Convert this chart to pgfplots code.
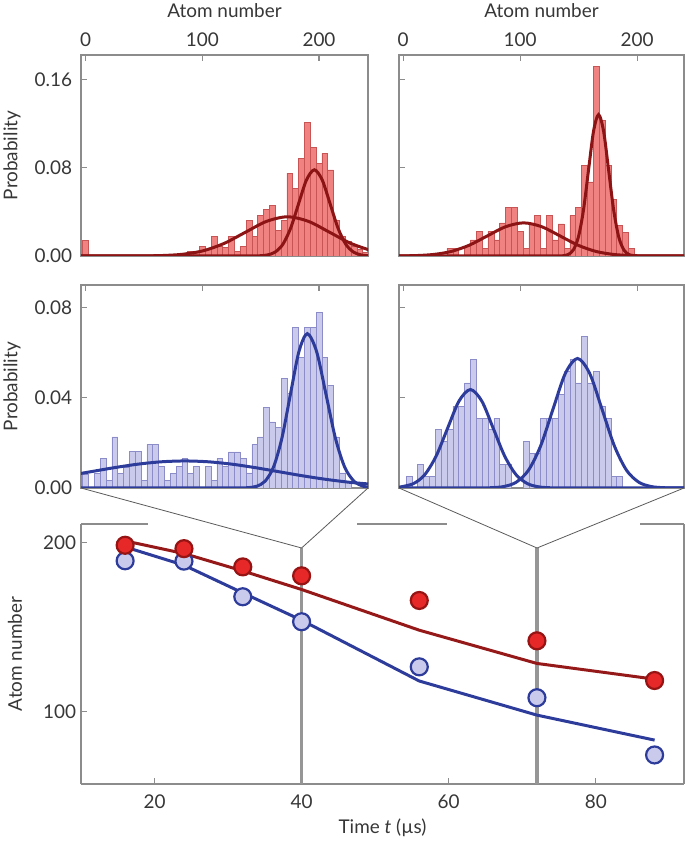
\documentclass[border=0pt]{standalone}
\usepackage{fontspec}
\setmainfont{Lato}
\usepackage{pgfplots}
\pgfplotsset{compat=1.18}

\definecolor{framegray}{RGB}{140,140,140}
\definecolor{textgray}{RGB}{55,55,55}
\definecolor{histred}{RGB}{240,130,130}
\definecolor{histrededge}{RGB}{200,85,85}
\definecolor{fitred}{RGB}{140,20,20}
\definecolor{histblue}{RGB}{202,202,236}
\definecolor{histblueedge}{RGB}{140,140,200}
\definecolor{fitblue}{RGB}{45,60,155}
\definecolor{dotred}{RGB}{230,40,40}
\definecolor{dotrededge}{RGB}{150,20,20}
\definecolor{linered}{RGB}{150,25,25}
\definecolor{vgray}{RGB}{150,150,150}
\definecolor{connector}{RGB}{90,90,90}

\pgfplotsset{
  panel/.style={
    scale only axis,
    axis line style={framegray, line width=1.1bp},
    tick style={framegray, line width=1.1bp},
    major tick length=6bp,
    tick align=inside,
    tick label style={font=\fontsize{19}{22}\selectfont, text=textgray},
    label style={font=\fontsize{19}{22}\selectfont, text=textgray},
    /pgf/number format/assume math mode=true,
    scaled ticks=false,
  },
  hist/.style={
    panel,
    height=201bp,
    xmin=-4, xmax=242,
    xtick={0,100,200},
    xtick pos=right, xticklabel pos=right,
    ytick pos=left,
    xticklabel style={yshift=4.5bp},
    yticklabel style={xshift=-5.5bp},
    xlabel style={at={(axis description cs:0.5,1)}, anchor=base, yshift=37bp},
    ylabel style={at={(axis description cs:-0.24,0.5)}, anchor=center},
  },
  bars/.style={ybar, bar width=5, line width=0.6bp},
  fit/.style={line width=3bp, smooth},
}

\begin{document}
\begin{tikzpicture}[x=1bp,y=1bp]
\useasboundingbox (0,0) rectangle (685,841);

% top left: red histogram
\begin{axis}[hist, at={(81bp,585bp)}, width=287bp,
  ymin=0, ymax=0.182, ytick={0,0.08,0.16}, yticklabels={0.00,0.08,0.16},
  xticklabels={0,100,200}, xlabel={Atom number}, ylabel={Probability}]
\addplot[bars, fill=histred, draw=histrededge] coordinates {
(0,0.014) (90,0.004) (95,0.003) (100,0.0085) (105,0.006) (110,0.018)
(115,0.0085) (120,0.0075) (125,0.018) (130,0.004) (135,0.0085) (140,0.032)
(145,0.018) (150,0.037) (155,0.042) (160,0.046) (165,0.023) (170,0.032)
(175,0.075) (180,0.061) (185,0.088) (190,0.121) (195,0.098) (200,0.084)
(205,0.093) (210,0.078) (215,0.032) (220,0.018) (225,0.013) (230,0.009)
(235,0.006) (240,0.003)
};
\addplot[fit, fitred] coordinates {
(-4,0) (20,0) (29,0.00001) (47,0.00008) (65,0.00039) (83,0.00156) (101,0.0048)
(119,0.01153) (137,0.02153) (155,0.03133) (173,0.0355) (191,0.03133)
(209,0.02153) (227,0.01153) (245,0.0048)
};
\addplot[fit, fitred] coordinates {
(-4,0) (130,0) (142,0.00002) (148.75,0.00017) (155.5,0.00087) (162.25,0.00342)
(169,0.01055) (175.75,0.02533) (182.5,0.04731) (189.25,0.06884) (196,0.078)
(202.75,0.06884) (209.5,0.04731) (216.25,0.02533) (223,0.01055)
(229.75,0.00342) (236.5,0.00087) (243.25,0.00017)
};
\end{axis}

% top right: red histogram
\begin{axis}[hist, at={(399bp,585bp)}, width=285bp, xmin=-3.5, xmax=240,
  ymin=0, ymax=0.182, ytick={0,0.08,0.16}, yticklabels={,,},
  xticklabels={0,100,200}, xlabel={Atom number}]
\addplot[bars, fill=histred, draw=histrededge] coordinates {
(40,0.007) (45,0.007) (55,0.0085) (60,0.0145) (65,0.022) (70,0.007)
(75,0.022) (80,0.0145) (85,0.030) (90,0.044) (95,0.044) (100,0.022)
(105,0.007) (110,0.030) (115,0.037) (120,0.007) (125,0.037) (130,0.0145)
(135,0.029) (140,0.007) (145,0.0365) (150,0.044) (155,0.082) (160,0.067)
(165,0.172) (170,0.123) (175,0.082) (180,0.051) (185,0.028) (190,0.0215)
(195,0.007)
};
\addplot[fit, fitred] coordinates {
(-4,0.0001) (10,0.00033) (25.5,0.00132) (41,0.00406) (56.5,0.00974)
(72,0.0182) (87.5,0.02648) (103,0.030) (118.5,0.02648) (134,0.0182)
(149.5,0.00974) (165,0.00406) (180.5,0.00132) (196,0.00033) (211.5,0.00007)
(241,0)
};
\addplot[fit, fitred] coordinates {
(-4,0) (120,0) (132.6,0.00004) (136.9,0.00028) (141.2,0.00142) (145.5,0.00562)
(149.8,0.01732) (154.1,0.04156) (158.4,0.07763) (162.7,0.11296) (167,0.128)
(171.3,0.11296) (175.6,0.07763) (179.9,0.04156) (184.2,0.01732)
(188.5,0.00562) (192.8,0.00142) (197.1,0.00028) (201.4,0.00004) (215,0) (241,0)
};
\end{axis}

% middle left: blue histogram
\begin{axis}[hist, at={(81bp,353bp)}, width=287bp, height=203bp,
  ymin=0, ymax=0.0901, ytick={0,0.04,0.08}, yticklabels={0.00,0.04,0.08},
  xticklabels={,,}, ylabel={Probability}]
\addplot[bars, fill=histblue, draw=histblueedge] coordinates {
(0,0.006) (10,0.0064) (15,0.013) (20,0.0034) (25,0.0227) (30,0.0064)
(35,0.0093) (40,0.0163) (45,0.0163) (50,0.0034) (55,0.0194) (60,0.0194)
(65,0.0096) (70,0.0034) (75,0.0064) (80,0.0096) (85,0.013) (90,0.0064)
(95,0.0096) (105,0.0096) (110,0.0034) (115,0.013) (120,0.0096) (125,0.016)
(130,0.016) (135,0.013) (140,0.0067) (145,0.0194) (150,0.0227) (155,0.0357)
(160,0.0293) (165,0.027) (170,0.0486) (175,0.042) (180,0.0712) (185,0.058)
(190,0.0712) (195,0.0712) (200,0.0778) (205,0.058) (210,0.0456) (215,0.0227)
(220,0.0067) (225,0.0027)
};
\addplot[fit, fitblue] coordinates {
(-4,0.00647) (5,0.00728) (25,0.00906) (45,0.01059) (65,0.01163) (85,0.012)
(105,0.01163) (125,0.01059) (145,0.00906) (165,0.00728) (185,0.00549)
(205,0.0039) (225,0.0026) (242,0.0018)
};
\addplot[fit, fitblue] coordinates {
(-4,0) (120,0) (132,0.00002) (139.25,0.00015) (146.5,0.00076) (153.75,0.003)
(161,0.00927) (168.25,0.02224) (175.5,0.04155) (182.75,0.06045) (190,0.0685)
(198,0.06045) (206,0.04155) (214,0.02224) (222,0.00927) (230,0.003)
(238,0.00076) (242,0.0004)
};
\end{axis}

% middle right: blue histogram
\begin{axis}[hist, at={(399bp,353bp)}, width=285bp, height=203bp,
  xmin=-3.5, xmax=240,
  ymin=0, ymax=0.0901, ytick={0,0.04,0.08}, yticklabels={,,},
  xticklabels={,,}]
\addplot[bars, fill=histblue, draw=histblueedge] coordinates {
(5,0.0052) (15,0.0104) (20,0.0052) (25,0.0052) (30,0.026) (35,0.0207)
(40,0.026) (45,0.0363) (50,0.0363) (55,0.0466) (60,0.057) (65,0.031)
(70,0.031) (75,0.026) (80,0.031) (85,0.0104) (90,0.0104) (105,0.0207)
(110,0.0155) (115,0.0155) (120,0.031) (125,0.031) (130,0.031) (135,0.0416)
(140,0.0518) (145,0.057) (150,0.0466) (155,0.0673) (160,0.0466) (165,0.0518)
(170,0.0363) (175,0.031) (180,0.0052) (185,0.0052)
};
\addplot[fit, fitblue] coordinates {
(-4,0.0003) (8.75,0.00192) (18.5,0.00591) (28.25,0.01419) (38,0.0265)
(47.75,0.03857) (57.5,0.0437) (67.25,0.03857) (77,0.0265) (86.75,0.01419)
(96.5,0.00591) (106.25,0.00192) (116,0.00049) (125.75,0.0001) (135.5,0.00001)
(150,0) (241,0)
};
\addplot[fit, fitblue] coordinates {
(-4,0) (50,0) (65,0.00002) (75.5,0.00013) (86,0.00064) (96.5,0.00252)
(107,0.00778) (117.5,0.01867) (128,0.03487) (138.5,0.05074) (149,0.0575)
(159.5,0.05074) (170,0.03487) (180.5,0.01867) (191,0.00778) (201.5,0.00252)
(212,0.00064) (222.5,0.00013) (233,0.00002) (241,0)
};
\end{axis}

% bottom: atom number versus time
\begin{axis}[panel, at={(81bp,57bp)}, width=603bp, height=260bp,
  xmin=10, xmax=92, ymin=57, ymax=211,
  axis x line*=bottom, axis y line*=box, axis line style={-},
  xtick={20,40,60,80}, ytick={100,200}, ytick pos=left,
  xticklabel style={yshift=-7.5bp},
  yticklabel style={xshift=-1.5bp},
  xlabel={Time \textit{t} (µs)}, ylabel={Atom number},
  xlabel style={at={(axis description cs:0.5,0)}, anchor=base, yshift=-49bp},
  ylabel style={at={(axis description cs:-0.1095,0.5)}, anchor=center}]
\draw[vgray, line width=3.5bp] (axis cs:40,196.6) -- (axis cs:40,57);
\draw[vgray, line width=3.5bp] (axis cs:72,196.6) -- (axis cs:72,57);
\addplot[linered, line width=3bp] coordinates {
(16,201) (24,193.5) (32,183.2) (40,172.2) (56,148.1) (72,128.4) (88,119.1)
};
\addplot[fitblue, line width=3bp] coordinates {
(16,197.4) (24,186.6) (32,170.2) (40,154) (56,118) (72,97.8) (88,83)
};
\addplot[only marks, mark=*, mark size=8.5bp,
  mark options={fill=histblue, draw=fitblue, line width=2.2bp}] coordinates {
(16,189.2) (24,189.0) (32,167.9) (40,153.1) (56,126.4) (72,108.1) (88,74.2)
};
\addplot[only marks, mark=*, mark size=8.5bp,
  mark options={fill=dotred, draw=dotrededge, line width=2.2bp}] coordinates {
(16,198.4) (24,196.4) (32,185.6) (40,180.3) (56,165.7) (72,141.8) (88,118.3)
};
\end{axis}

% broken top frame of the bottom panel and the zoom connectors
\draw[framegray, line width=1.1bp] (81,317) -- (148,317) (357,317) -- (447,317) (640,317) -- (684,317);
\draw[connector, line width=0.8bp] (81,353) -- (301.6,293) -- (368,353);
\draw[connector, line width=0.8bp] (399,353) -- (537,293) -- (684,353);
\end{tikzpicture}
\end{document}
